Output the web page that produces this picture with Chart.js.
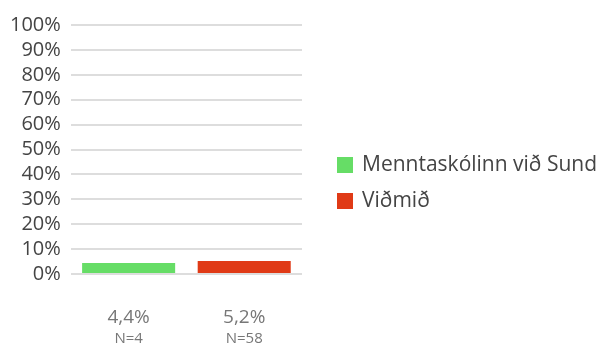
<!DOCTYPE html>
<html>
<head>
<meta charset="utf-8">
<script src="https://cdn.jsdelivr.net/npm/chart.js@4"></script>
<style>
  html, body { margin: 0; padding: 0; background: #fff; }
  #wrap { width: 599px; height: 348px; }
</style>
</head>
<body>
<div id="wrap"><canvas id="chart" width="599" height="348"></canvas></div>
<script>
// ================= DATA =================
const seriesNames = ["Menntaskólinn við Sund", "Viðmið"];
const seriesColors = ["#66dd66", "#e03a16"];
const values = [4.4, 5.2];
const valueLabels = ["4,4%", "5,2%"];
const countLabels = ["N=4", "N=58"];
const yTicks = [0, 10, 20, 30, 40, 50, 60, 70, 80, 90, 100];

const FONT = "'Open Sans', 'Noto Sans', sans-serif";

// one dataset per group so each gets its own legend entry
const datasets = seriesNames.map((name, i) => ({
  label: name,
  data: values.map((v, j) => (j === i ? v : null)),
  backgroundColor: seriesColors[i],
  borderWidth: 0,
  categoryPercentage: 1,
  barPercentage: 0.805
}));

// ================= LABELS UNDER BARS + LEGEND =================
const extras = {
  id: "extras",
  afterDraw(chart) {
    const { ctx, scales, chartArea } = chart;
    const x = scales.x;
    ctx.save();
    ctx.textBaseline = "middle";

    // value + count under each bar
    ctx.textAlign = "center";
    ctx.fillStyle = "#777";
    valueLabels.forEach((txt, i) => {
      const px = x.getPixelForValue(i);
      ctx.font = "19px " + FONT;
      ctx.fillText(txt, px, chartArea.bottom + 44);
      ctx.font = "15px " + FONT;
      ctx.fillText(countLabels[i], px, chartArea.bottom + 65);
    });

    // legend on the right, drawn by hand so the long name isn't cut
    ctx.textAlign = "left";
    ctx.font = "21px " + FONT;
    const lx = chartArea.right + 35;
    chart.data.datasets.forEach((ds, i) => {
      const cy = 165 + i * 36;
      ctx.fillStyle = ds.backgroundColor;
      ctx.fillRect(lx, cy - 8, 16, 16);
      ctx.fillStyle = "#444";
      ctx.fillText(ds.label, lx + 25, cy);
    });
    ctx.restore();
  }
};

new Chart(document.getElementById("chart"), {
  type: "bar",
  data: {
    labels: valueLabels,
    datasets: datasets
  },
  options: {
    responsive: false,
    animation: false,
    skipNull: true,
    layout: { padding: { top: 25, bottom: 74, left: 0, right: 297 } },
    plugins: {
      legend: { display: false },
      tooltip: { enabled: false }
    },
    scales: {
      x: {
        grid: { display: false, drawTicks: false },
        border: { display: false },
        ticks: { display: false }
      },
      y: {
        min: 0,
        max: 100,
        afterBuildTicks(axis) {
          axis.ticks = yTicks.map(v => ({ value: v }));
        },
        grid: { color: "#dddddd", lineWidth: 2, drawTicks: false },
        border: { display: false },
        ticks: {
          autoSkip: false,
          padding: 10,
          color: "#444",
          font: { family: FONT, size: 20 },
          callback: v => v + "%"
        }
      }
    }
  },
  plugins: [extras]
});
</script>
</body>
</html>
